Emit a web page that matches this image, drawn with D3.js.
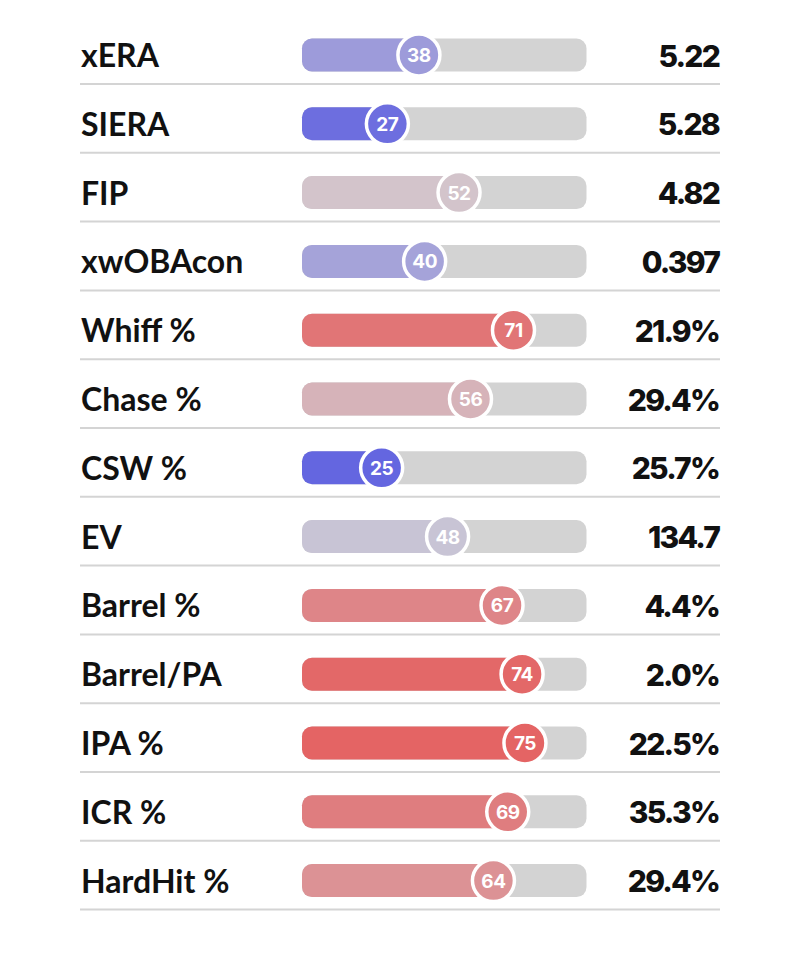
<!DOCTYPE html>
<html>
<head>
<meta charset="utf-8">
<script src="https://cdn.jsdelivr.net/npm/d3@7"></script>
<style>
  html, body { margin: 0; padding: 0; background: #ffffff; }
  svg { display: block; }
</style>
</head>
<body>
<svg id="chart" width="800" height="967"></svg>
<script>
const metrics = ["xERA","SIERA","FIP","xwOBAcon","Whiff %","Chase %","CSW %","EV","Barrel %","Barrel/PA","IPA %","ICR %","HardHit %"];
const percentiles = [38,27,52,40,71,56,25,48,67,74,75,69,64];
const values = ["5.22","5.28","4.82","0.397","21.9%","29.4%","25.7%","134.7","4.4%","2.0%","22.5%","35.3%","29.4%"];

const svg = d3.select("#chart");
const W = 800, H = 967;
svg.append("rect").attr("width", W).attr("height", H).attr("fill", "#ffffff");

const rowScale = d3.scaleBand().domain(d3.range(metrics.length)).range([20.6, 20.6 + 68.8 * metrics.length]);
const barLeft = 302, barRight = 586.5, barH = 33;
const xPos = d3.scaleLinear().domain([0, 100]).range([310, 596.6]);
const color = d3.scaleLinear().domain([25, 50, 75]).range(["#6466e0", "#d1ccd4", "#e46464"]).interpolate(d3.interpolateRgb);

const rows = svg.selectAll("g.row").data(metrics).join("g")
  .attr("class", "row")
  .attr("transform", (d, i) => `translate(0,${rowScale(i) + rowScale.bandwidth() / 2})`);

// separator
rows.append("line")
  .attr("x1", 80).attr("x2", 720)
  .attr("y1", 29).attr("y2", 29)
  .attr("stroke", "#d4d4d4").attr("stroke-width", 2);

// label
rows.append("text")
  .attr("x", 81).attr("y", 12)
  .attr("font-family", "Lato, 'Noto Sans', sans-serif")
  .attr("font-weight", 700)
  .attr("font-size", 32)
  .attr("fill", "#111")
  .text(d => d);

// track
rows.append("rect")
  .attr("x", barLeft).attr("y", -barH / 2)
  .attr("width", barRight - barLeft).attr("height", barH)
  .attr("rx", 10).attr("fill", "#d3d3d3");

// fill
rows.append("rect")
  .attr("x", barLeft).attr("y", -barH / 2)
  .attr("width", (d, i) => xPos(percentiles[i]) - barLeft)
  .attr("height", barH)
  .attr("rx", 10)
  .attr("fill", (d, i) => color(percentiles[i]));

// circle
rows.append("circle")
  .attr("cx", (d, i) => xPos(percentiles[i]))
  .attr("cy", 0)
  .attr("r", 21)
  .attr("fill", (d, i) => color(percentiles[i]))
  .attr("stroke", "#ffffff").attr("stroke-width", 3.5);

rows.append("text")
  .attr("x", (d, i) => xPos(percentiles[i]))
  .attr("y", 7)
  .attr("text-anchor", "middle")
  .attr("font-family", "Inter, 'Open Sans', sans-serif")
  .attr("font-weight", 700)
  .attr("font-size", 19)
  .attr("letter-spacing", -0.5)
  .attr("fill", "#ffffff")
  .text((d, i) => percentiles[i]);

// value
rows.append("text")
  .attr("x", 719).attr("y", 11.5)
  .attr("text-anchor", "end")
  .attr("font-family", "Inter, 'Open Sans', sans-serif")
  .attr("font-weight", 800)
  .attr("font-size", 30)
  .attr("letter-spacing", -1.8)
  .attr("fill", "#111")
  .text((d, i) => values[i]);
</script>
</body>
</html>
